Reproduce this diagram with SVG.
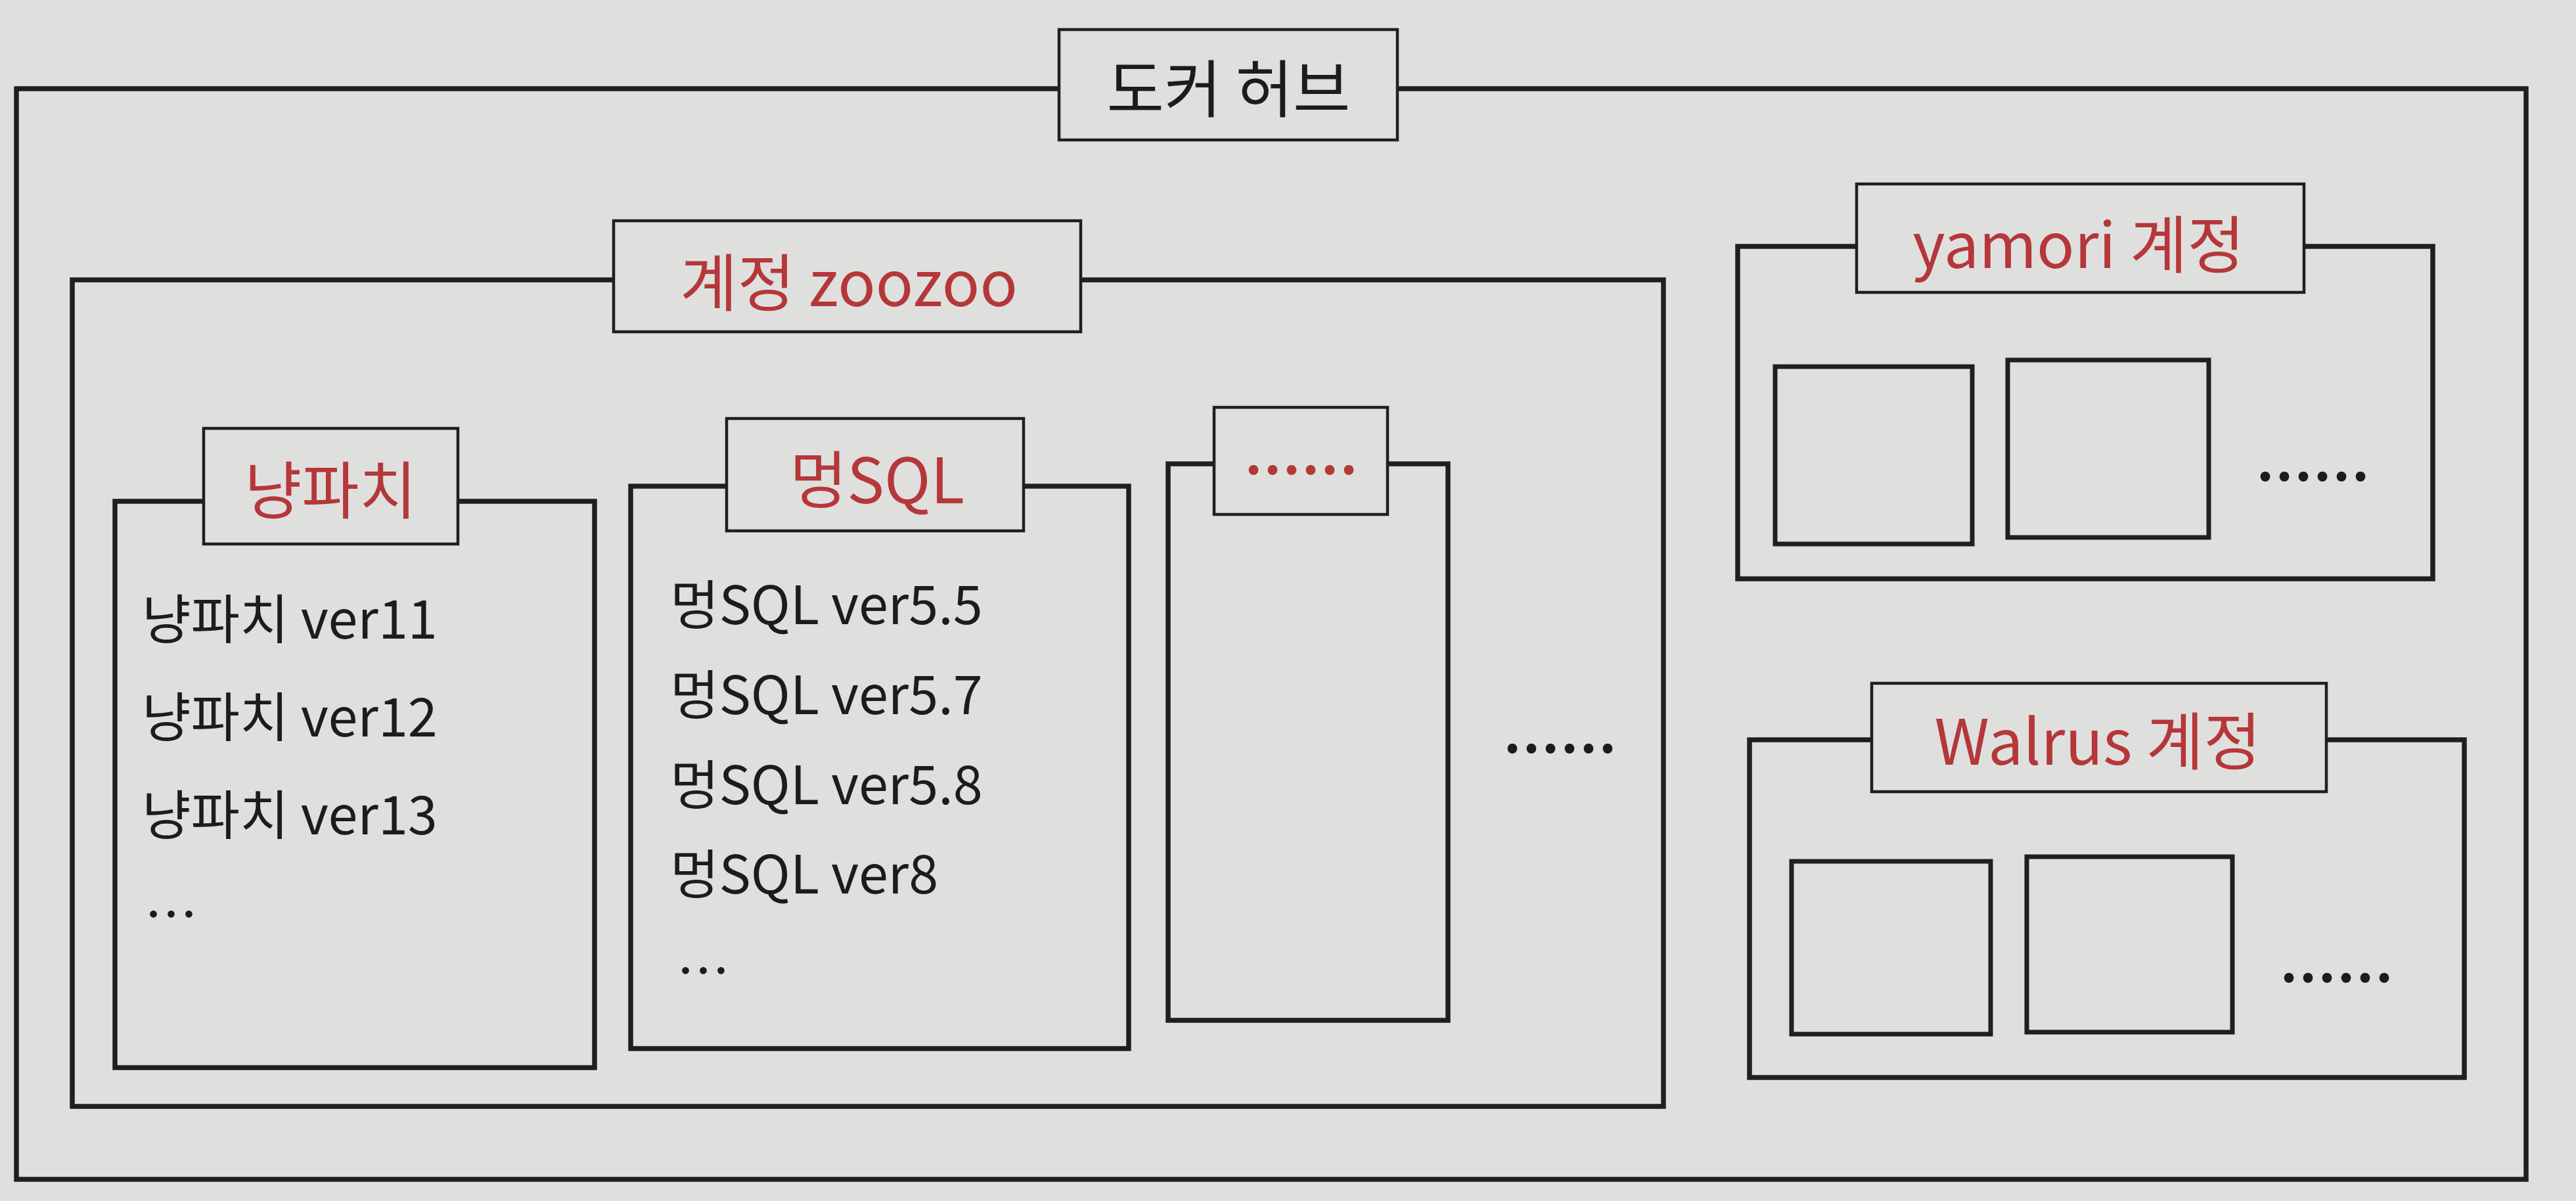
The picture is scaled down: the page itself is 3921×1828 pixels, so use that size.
<svg xmlns="http://www.w3.org/2000/svg" width="3921" height="1828" viewBox="0 0 3921 1828">
  <style>
    .bg { fill: #dfe0de; }
    .box { fill: none; stroke: #1f1f23; stroke-width: 7.5; }
    .sub { fill: none; stroke: #1f1f23; stroke-width: 7; }
    .lbl { fill: #dfe0de; stroke: #1f1f23; stroke-width: 4.5; }
    .t { font-family: "Noto Sans CJK KR", "Noto Sans", sans-serif; }
    .head { font-size: 95px; text-anchor: middle; dominant-baseline: central; }
    .red { fill: #b5373a; }
    .blk { fill: #1c1c1f; }
    .item { font-size: 81px; fill: #1c1c1f; }
    .dots { font-size: 80px; font-weight: 700; letter-spacing: 3px; }
  </style>
  <rect class="bg" x="0" y="0" width="3921" height="1828"/>

  <g id="docker-hub">
    <rect class="box" x="25" y="135" width="3820" height="1660"/>
    <rect class="lbl" x="1612" y="45" width="515" height="168"/>
    <text class="t head blk" x="1870" y="129">도커 허브</text>
  </g>

  <g id="account-zoozoo">
    <rect class="box" x="110" y="426" width="2422" height="1258"/>
    <rect class="lbl" x="934" y="336" width="711" height="169"/>
    <text class="t head red" x="1292" y="424">계정 zoozoo</text>
  </g>

  <g id="repo-nyangpachi">
    <rect class="box" x="175" y="763" width="730" height="862"/>
    <rect class="lbl" x="310" y="652" width="387" height="176"/>
    <text class="t head red" x="503" y="740">냥파치</text>
    <text class="t item" x="216" y="972">냥파치 ver11</text>
    <text class="t item" x="216" y="1121">냥파치 ver12</text>
    <text class="t item" x="216" y="1270">냥파치 ver13</text>
    <text class="t item" x="220" y="1422">…</text>
  </g>

  <g id="repo-meongsql">
    <rect class="box" x="960" y="740" width="758" height="856"/>
    <rect class="lbl" x="1106" y="637" width="452" height="171"/>
    <text class="t head red" x="1335" y="724">멍SQL</text>
    <text class="t item" x="1020" y="950">멍SQL ver5.5</text>
    <text class="t item" x="1020" y="1087">멍SQL ver5.7</text>
    <text class="t item" x="1020" y="1224">멍SQL ver5.8</text>
    <text class="t item" x="1020" y="1360">멍SQL ver8</text>
    <text class="t item" x="1030" y="1508">…</text>
  </g>

  <g id="repo-more">
    <rect class="box" x="1778" y="706" width="426" height="847"/>
    <rect class="lbl" x="1848" y="620" width="264" height="163"/>
    <text class="t dots red" x="1982" y="722" text-anchor="middle">......</text>
  </g>

  <text class="t dots blk" x="2376" y="1146" text-anchor="middle">......</text>

  <g id="account-yamori">
    <rect class="box" x="2645" y="375" width="1058" height="506"/>
    <rect class="lbl" x="2826" y="280" width="681" height="165"/>
    <text class="t head red" x="3164" y="366">yamori 계정</text>
    <rect class="sub" x="2702" y="558" width="300" height="270"/>
    <rect class="sub" x="3056" y="548" width="306" height="270"/>
    <text class="t dots blk" x="3522" y="732" text-anchor="middle">......</text>
  </g>

  <g id="account-walrus">
    <rect class="box" x="2663" y="1126" width="1088" height="514"/>
    <rect class="lbl" x="2849" y="1040" width="692" height="165"/>
    <text class="t head red" x="3193" y="1122">Walrus 계정</text>
    <rect class="sub" x="2727" y="1311" width="303" height="263"/>
    <rect class="sub" x="3085" y="1304" width="313" height="267"/>
    <text class="t dots blk" x="3558" y="1495" text-anchor="middle">......</text>
  </g>

  <g id="connectors"></g>
</svg>
